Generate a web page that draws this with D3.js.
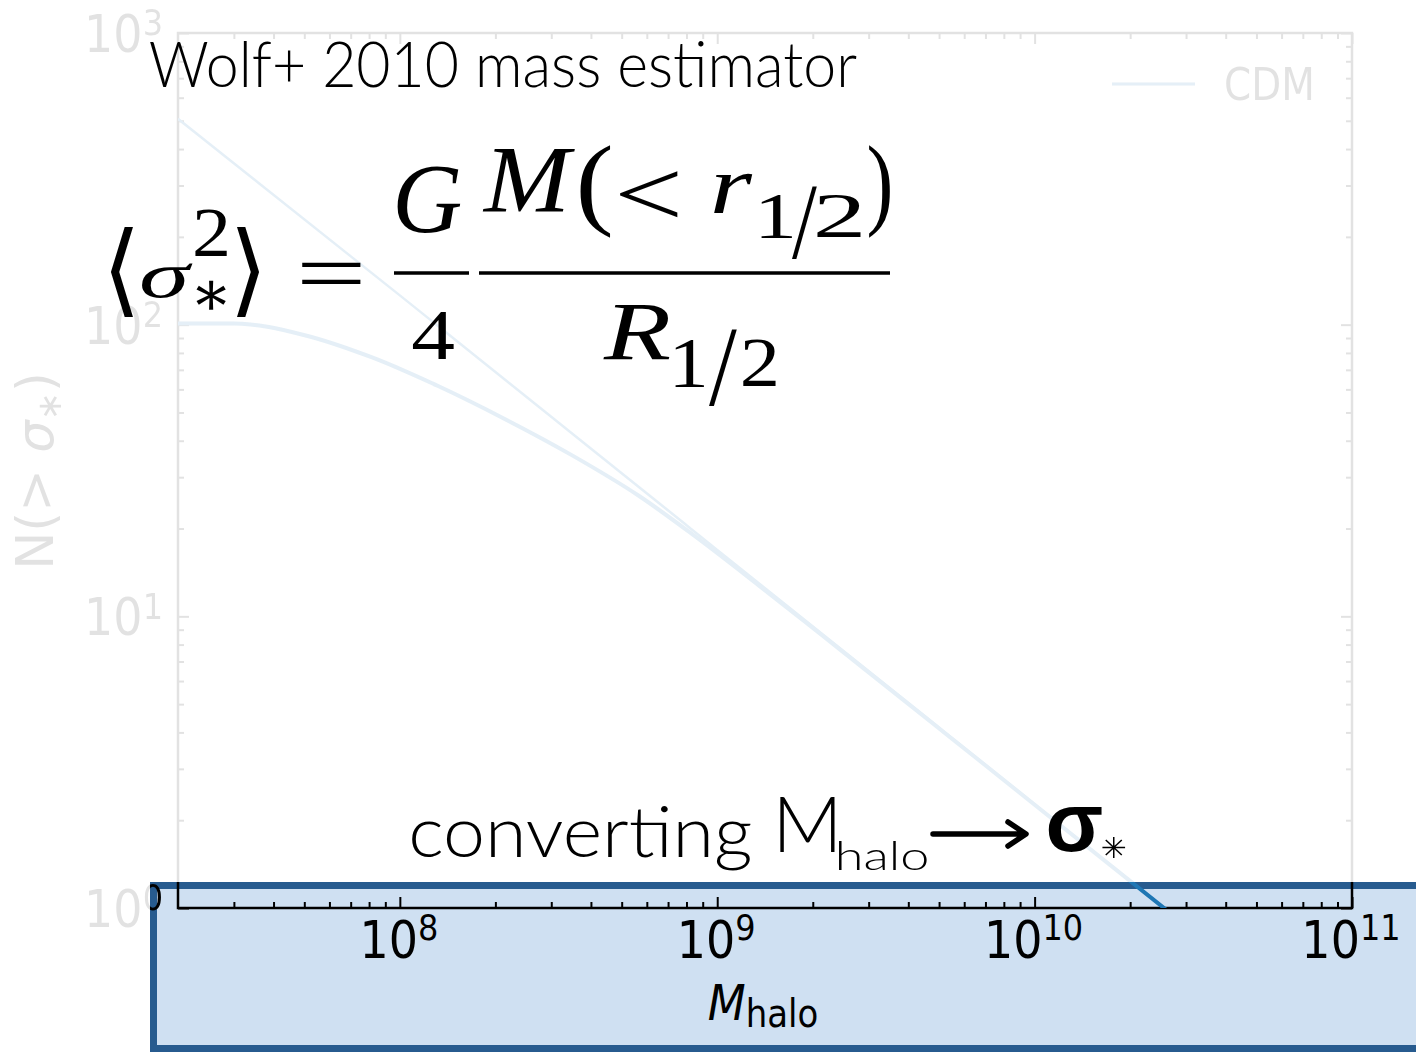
<!DOCTYPE html>
<html>
<head>
<meta charset="utf-8">
<script src="https://cdn.jsdelivr.net/npm/d3@7"></script>
<style>
  body { margin: 0; background: #fff; }
</style>
</head>
<body>
<div id="chart"></div>
<script>
// values
var cdmMass = [2e7, 1e8, 1e9, 1e10, 3e10];
var cdmCount = [508, 126, 16.9, 2.27, 0.87];
var wolfMass = [2e7, 3e7, 4.98e7, 8.1e7, 1.32e8, 2.14e8, 3.48e8, 5.66e8, 8.63e8, 1.36e9, 2.86e9, 1e10, 3e10];
var wolfCount = [101, 101, 92.2, 77.5, 61.6, 47.5, 35.7, 25.9, 18.6, 12.7, 6.7, 2.26, 0.87];
var xTickExp = [8, 9, 10, 11];
var yTickExp = [0, 1, 2, 3];
var legendLabel = "CDM";

var W = 1416, H = 1052;
var plot = { left: 178, right: 1352, top: 33, bottom: 908 };

var x = d3.scaleLog().domain([2e7, 1e11]).range([plot.left, plot.right]);
var y = d3.scaleLog().domain([1, 1000]).range([plot.bottom, plot.top]);

var svg = d3.select("#chart").append("svg")
    .attr("width", W)
    .attr("height", H);

svg.append("rect").attr("width", W).attr("height", H).attr("fill", "#fff");

var defs = svg.append("defs");
defs.append("clipPath").attr("id", "plotclip")
    .append("rect")
    .attr("x", plot.left).attr("y", plot.top)
    .attr("width", plot.right - plot.left).attr("height", plot.bottom - plot.top);
defs.append("clipPath").attr("id", "boxclip")
    .append("rect")
    .attr("x", 150).attr("y", 882)
    .attr("width", W - 150).attr("height", H - 882);

// minor tick positions for log axes
const minorTicks = (lo, hi) => {
    let out = [];
    for (let e = Math.floor(Math.log10(lo)); e <= Math.ceil(Math.log10(hi)); e++) {
        for (let k = 2; k <= 9; k++) {
            let v = k * Math.pow(10, e);
            if (v > lo && v < hi) out.push(v);
        }
    }
    return out;
};

const drawChart = (g) => {
    var majorX = xTickExp.map(e => Math.pow(10, e)).filter(v => v >= 2e7 && v <= 1e11);
    var majorY = yTickExp.map(e => Math.pow(10, e));

    const styleAxis = (sel) => {
        sel.select(".domain").remove();
        sel.selectAll("line").attr("stroke", "#000").attr("stroke-width", 2);
        sel.selectAll("text").remove();
    };

    // ticks on all four sides, pointing inward
    [[majorX, 11], [minorTicks(2e7, 1e11), 6]].forEach(function (t) {
        g.append("g").attr("transform", "translate(0," + plot.bottom + ")")
            .call(d3.axisBottom(x).tickValues(t[0]).tickSize(-t[1]).tickFormat("")).call(styleAxis);
        g.append("g").attr("transform", "translate(0," + plot.top + ")")
            .call(d3.axisTop(x).tickValues(t[0]).tickSize(-t[1]).tickFormat("")).call(styleAxis);
    });
    [[majorY, 11], [minorTicks(1, 1000), 6]].forEach(function (t) {
        g.append("g").attr("transform", "translate(" + plot.left + ",0)")
            .call(d3.axisLeft(y).tickValues(t[0]).tickSize(-t[1]).tickFormat("")).call(styleAxis);
        g.append("g").attr("transform", "translate(" + plot.right + ",0)")
            .call(d3.axisRight(y).tickValues(t[0]).tickSize(-t[1]).tickFormat("")).call(styleAxis);
    });

    // frame
    g.append("rect")
        .attr("x", plot.left).attr("y", plot.top)
        .attr("width", plot.right - plot.left).attr("height", plot.bottom - plot.top)
        .attr("fill", "none").attr("stroke", "#000").attr("stroke-width", 2.5);

    // tick labels 10^n
    xTickExp.forEach(function (e) {
        var t = g.append("text")
            .attr("transform", "translate(" + (x(Math.pow(10, e)) - 1) + "," + (plot.bottom + 50) + ") scale(1,1.12)")
            .attr("text-anchor", "middle")
            .attr("font-family", "DejaVu Sans").attr("font-size", 46).attr("fill", "#000");
        t.append("tspan").text("10");
        t.append("tspan").attr("font-size", 32).attr("dy", -16).text(e);
    });
    yTickExp.forEach(function (e) {
        var t = g.append("text")
            .attr("transform", "translate(" + (plot.left - 15) + "," + (y(Math.pow(10, e)) + 19) + ") scale(1,1.12)")
            .attr("text-anchor", "end")
            .attr("font-family", "DejaVu Sans").attr("font-size", 46).attr("fill", "#000");
        t.append("tspan").text("10");
        t.append("tspan").attr("font-size", 32).attr("dy", -15).text(e);
    });

    // axis labels
    var xl = g.append("text")
        .attr("transform", "translate(763,1020) scale(1,1.15)")
        .attr("text-anchor", "middle")
        .attr("font-family", "DejaVu Sans").attr("font-size", 44).attr("fill", "#000");
    xl.append("tspan").attr("font-style", "italic").text("M");
    xl.append("tspan").attr("font-size", 34).attr("dy", 6).text("halo");

    var yl = g.append("text")
        .attr("transform", "translate(53,471) rotate(-90)")
        .attr("text-anchor", "middle")
        .attr("font-family", "DejaVu Sans").attr("font-size", 51).attr("fill", "#000");
    yl.append("tspan").text("N(> ");
    yl.append("tspan").attr("font-style", "italic").text("σ");
    yl.append("tspan").attr("font-size", 34).attr("dy", 8).text("∗");
    yl.append("tspan").attr("dy", -8).text(")");

    // series
    var line = d3.line()
        .x(d => x(d[0]))
        .y(d => y(d[1]))
        .curve(d3.curveMonotoneX);
    var lines = g.append("g").attr("clip-path", "url(#plotclip)");
    lines.append("path")
        .datum(wolfMass.map((m, i) => [m, wolfCount[i]]))
        .attr("d", line)
        .attr("fill", "none").attr("stroke", "#1f77b4").attr("stroke-width", 4);
    lines.append("path")
        .datum(cdmMass.map((m, i) => [m, cdmCount[i]]))
        .attr("d", line)
        .attr("fill", "none").attr("stroke", "#1f77b4").attr("stroke-width", 2.5);

    // legend
    g.append("line")
        .attr("x1", 1112).attr("x2", 1195).attr("y1", 84).attr("y2", 84)
        .attr("stroke", "#1f77b4").attr("stroke-width", 3);
    g.append("text")
        .attr("transform", "translate(1224,100) scale(1,1.15)")
        .attr("font-family", "DejaVu Sans").attr("font-size", 39).attr("fill", "#000")
        .text(legendLabel);
};

// faded copy of the whole chart
drawChart(svg.append("g").attr("opacity", 0.115));

// highlighted box over the x axis
svg.append("rect")
    .attr("x", 153.5).attr("y", 885.5)
    .attr("width", 1300).attr("height", 163)
    .attr("fill", "#cfe0f2").attr("stroke", "#275b8f").attr("stroke-width", 7);

drawChart(svg.append("g").attr("clip-path", "url(#boxclip)"));

// slide annotations: text fitted to measured ink boxes
var ctx = document.createElement("canvas").getContext("2d");
const fitText = (str, family, style, weight, box, color) => {
    var font = style + " " + weight + " 100px " + family;
    ctx.font = font;
    var m = ctx.measureText(str);
    var l = -m.actualBoundingBoxLeft, r = m.actualBoundingBoxRight;
    var t = -m.actualBoundingBoxAscent, b = m.actualBoundingBoxDescent;
    var sx = (box[2] - box[0]) / (r - l), sy = (box[3] - box[1]) / (b - t);
    svg.append("text")
        .attr("transform", "translate(" + (box[0] - l * sx) + "," + (box[1] - t * sy) + ") scale(" + sx + "," + sy + ")")
        .style("font", font)
        .attr("fill", color || "#000")
        .text(str);
};

var sans = "Lato";
var serif = '"Liberation Serif"';
var dserif = '"DejaVu Serif"';

fitText("Wolf+ 2010 mass estimator", sans, "normal", 300, [150, 40, 857, 88]);

// equation
fitText("⟨", dserif, "normal", 400, [110, 227, 133, 318]);
fitText("σ", serif, "italic", 400, [141, 263, 193, 298]);
fitText("2", serif, "normal", 400, [195, 210, 227, 257]);
fitText("∗", dserif, "normal", 400, [196, 280, 226, 310]);
fitText("⟩", dserif, "normal", 400, [237, 227, 260, 318]);
fitText("=", serif, "normal", 400, [301, 263, 361, 284]);
fitText("G", serif, "italic", 400, [397, 167, 461, 233]);
fitText("4", serif, "normal", 400, [412, 312, 454, 360]);
fitText("M", serif, "italic", 400, [482, 150, 575, 213]);
fitText("(", serif, "normal", 400, [580, 145, 611, 238]);
fitText("<", serif, "normal", 400, [619, 170, 678, 217]);
fitText("r", serif, "italic", 400, [714, 173, 753, 213]);
fitText("1", serif, "normal", 400, [761, 195, 792, 238]);
fitText("/", serif, "normal", 400, [792, 187, 817, 260]);
fitText("2", serif, "normal", 400, [817, 195, 861, 238]);
fitText(")", serif, "normal", 400, [869, 145, 890, 238]);
fitText("R", serif, "italic", 400, [603, 305, 670, 360]);
fitText("1", serif, "normal", 400, [675, 340, 704, 387]);
fitText("/", serif, "normal", 400, [709, 330, 737, 407]);
fitText("2", serif, "normal", 400, [743, 340, 776, 387]);
svg.append("line").attr("x1", 394).attr("x2", 469).attr("y1", 273).attr("y2", 273)
    .attr("stroke", "#000").attr("stroke-width", 3.5);
svg.append("line").attr("x1", 479).attr("x2", 890).attr("y1", 273).attr("y2", 273)
    .attr("stroke", "#000").attr("stroke-width", 3.5);

// converting M_halo -> sigma_*
fitText("converting", sans, "normal", 300, [412, 805, 751, 870]);
fitText("M", sans, "normal", 300, [780, 796, 835, 852]);
fitText("halo", sans, "normal", 300, [839, 840, 927, 870]);
svg.append("path")
    .attr("d", "M933,834 H1024 M1008,822 L1026,834 L1008,846")
    .attr("fill", "none").attr("stroke", "#000").attr("stroke-width", 5.5)
    .attr("stroke-linecap", "round").attr("stroke-linejoin", "round");
fitText("σ", '"Liberation Sans"', "normal", 700, [1048, 807, 1102, 852]);
fitText("✳", '"DejaVu Sans"', "normal", 400, [1102, 837, 1125, 858]);
</script>
</body>
</html>
